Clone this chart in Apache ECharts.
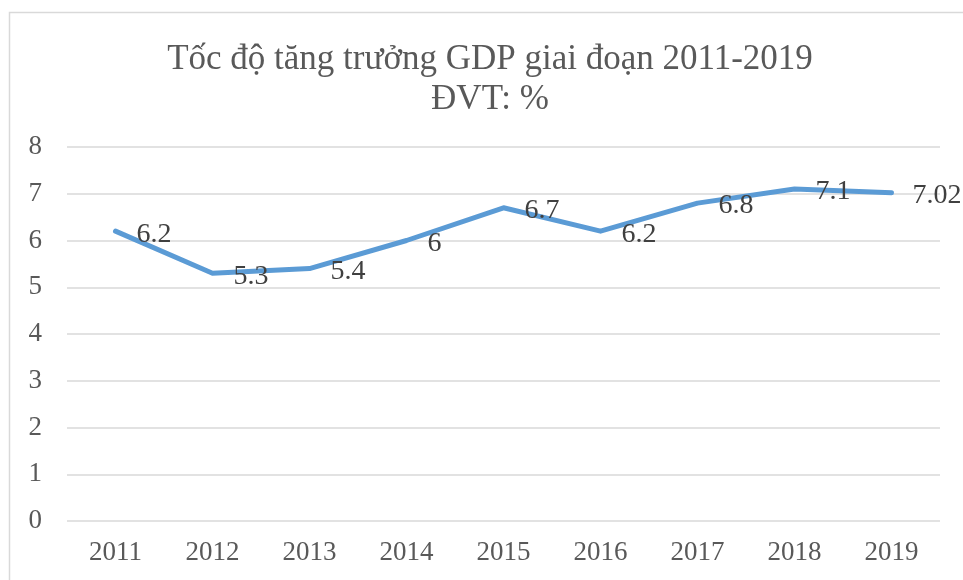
<!DOCTYPE html>
<html>
<head>
<meta charset="utf-8">
<script src="https://cdn.jsdelivr.net/npm/echarts@6/dist/echarts.min.js"></script>
<style>
  html, body { margin: 0; padding: 0; background: #fff; }
  #chart { width: 963px; height: 580px; }
</style>
</head>
<body>
<div id="chart"></div>
<script>
const years = ["2011", "2012", "2013", "2014", "2015", "2016", "2017", "2018", "2019"];
const gdpGrowth = [6.2, 5.3, 5.4, 6, 6.7, 6.2, 6.8, 7.1, 7.02];
const yTicks = [0, 1, 2, 3, 4, 5, 6, 7, 8];

const fontFamily = "'Liberation Serif', 'Times New Roman', serif";
const chart = echarts.init(document.getElementById("chart"));

const option = {
  animation: false,
  backgroundColor: "#ffffff",
  title: {
    text: "Tốc độ tăng trưởng GDP giai đoạn 2011-2019\nĐVT: %",
    left: 485,
    textAlign: "center",
    top: 35,
    textStyle: {
      fontFamily: fontFamily,
      fontWeight: "normal",
      fontSize: 35,
      lineHeight: 40,
      color: "#595959",
    },
  },
  graphic: [
    {
      type: "rect",
      shape: { x: 9.5, y: 12.5, width: 1200, height: 1000 },
      style: { fill: "none", stroke: "#d9d9d9", lineWidth: 1.5 },
      silent: true,
    },
  ],
  grid: {
    left: 67,
    right: 23,
    top: 147,
    bottom: 59,
    containLabel: false,
  },
  xAxis: {
    type: "category",
    data: years,
    boundaryGap: true,
    axisLine: { show: false },
    axisTick: { show: false },
    axisLabel: {
      color: "#595959",
      fontFamily: fontFamily,
      fontSize: 27,
      margin: 18,
    },
  },
  yAxis: {
    type: "value",
    min: yTicks[0],
    max: yTicks[yTicks.length - 1],
    interval: 1,
    axisLine: { show: false },
    axisTick: { show: false },
    axisLabel: {
      color: "#595959",
      fontFamily: fontFamily,
      fontSize: 27,
      margin: 25,
    },
    splitLine: {
      lineStyle: { color: "#d9d9d9", width: 1.5 },
    },
  },
  series: [
    {
      type: "line",
      data: gdpGrowth,
      showSymbol: true,
      showAllSymbol: true,
      symbol: "circle",
      symbolSize: 2,
      lineStyle: { color: "#5b9bd5", width: 5, cap: "round", join: "round" },
      itemStyle: { color: "#5b9bd5", borderWidth: 0 },
      label: {
        show: true,
        position: "right",
        distance: 20,
        offset: [0, 3],
        color: "#404040",
        fontFamily: fontFamily,
        fontSize: 28,
      },
    },
  ],
};

chart.setOption(option);
</script>
</body>
</html>
